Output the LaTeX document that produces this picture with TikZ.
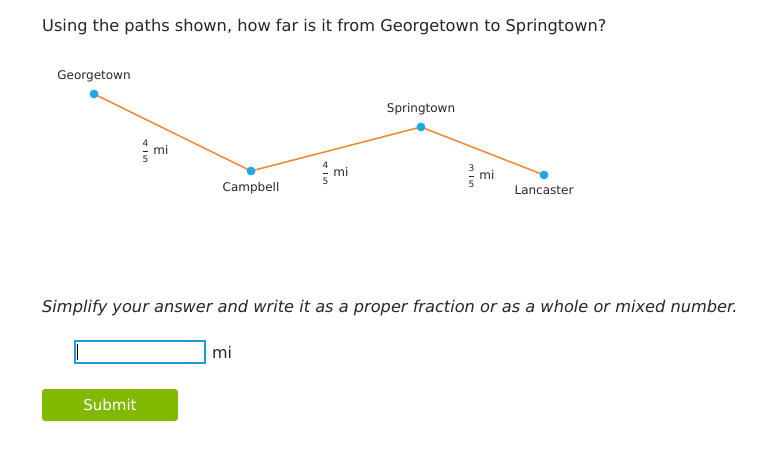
\documentclass[tikz,border=0pt]{standalone}
\usepackage{fontspec}
\setmainfont{DejaVu Sans}
\usetikzlibrary{shapes,arrows,positioning}
\definecolor{dotblue}{HTML}{1BA9E5}
\definecolor{roadorange}{HTML}{EE8E3C}
\definecolor{btngreen}{HTML}{80B900}
\definecolor{boxblue}{HTML}{1E9AD6}
\tikzstyle{town} = [circle, fill=dotblue, inner sep=0pt, minimum size=8.5pt]
\tikzstyle{townlabel} = [font=\fontsize{12}{14}\selectfont, text=black!85]
\tikzstyle{road} = [draw=roadorange, line width=1.6pt]
\tikzstyle{dist} = [font=\fontsize{12}{14}\selectfont, text=black!85, inner sep=0pt]
\tikzstyle{prompt} = [font=\fontsize{16.2}{19}\selectfont, text=black!85, anchor=west, inner sep=0pt]
\newcommand{\frc}[2]{$\displaystyle\frac{\hbox{\fontsize{9}{9}\selectfont #1}}{\hbox{\fontsize{9}{9}\selectfont #2}}$}

\begin{document}
\begin{tikzpicture}[x=1pt, y=-1pt]
		\useasboundingbox[fill=white] (0,0) rectangle (770,466);
		% Question
		\node [prompt] (question) at (42,27) {Using the paths shown, how far is it from Georgetown to Springtown?};
		% Draw nodes
		\node [town] (georgetown) at (94,94) {};
		\node [town] (campbell) at (251,171) {};
		\node [town] (springtown) at (421,127) {};
		\node [town] (lancaster) at (544,175) {};
		\node [townlabel, above=4pt of georgetown] (georgetownlabel) {Georgetown};
		\node [townlabel, below=3pt of campbell] (campbelllabel) {Campbell};
		\node [townlabel, above=4pt of springtown] (springtownlabel) {Springtown};
		\node [townlabel, below=3pt of lancaster] (lancasterlabel) {Lancaster};
		% Draw lines connecting
		\path [road] (georgetown.center) -- (campbell.center);
		\path [road] (campbell.center) -- (springtown.center);
		\path [road] (springtown.center) -- (lancaster.center);
		\node [town] at (georgetown) {};
		\node [town] at (campbell) {};
		\node [town] at (springtown) {};
		\node [town] at (lancaster) {};
		% Distances
		\node [dist] (distone) at (155,151) {\frc{4}{5} mi};
		\node [dist] (disttwo) at (335,173) {\frc{4}{5} mi};
		\node [dist] (distthree) at (481,176) {\frc{3}{5} mi};
		% Answer area
		\node [prompt, font=\fontsize{16.2}{19}\selectfont\itshape] (hint) at (42,308) {Simplify your answer and write it as a proper fraction or as a whole or mixed number.};
		\node [draw=boxblue, line width=1.2pt, minimum width=130pt, minimum height=22pt, inner sep=0pt] (answer) at (140,352) {};
		\draw [black, line width=0.9pt] ([xshift=3pt, yshift=-4pt]answer.north west) -- ([xshift=3pt, yshift=4pt]answer.south west);
		\node [townlabel, font=\fontsize{16}{19}\selectfont, right=3pt of answer] (unit) {mi};
		\node [fill=btngreen, rounded corners=3pt, minimum width=136pt, minimum height=32pt, text=white, font=\fontsize{15}{18}\selectfont] (submit) at (110,405) {Submit};
	\end{tikzpicture}
\end{document}
